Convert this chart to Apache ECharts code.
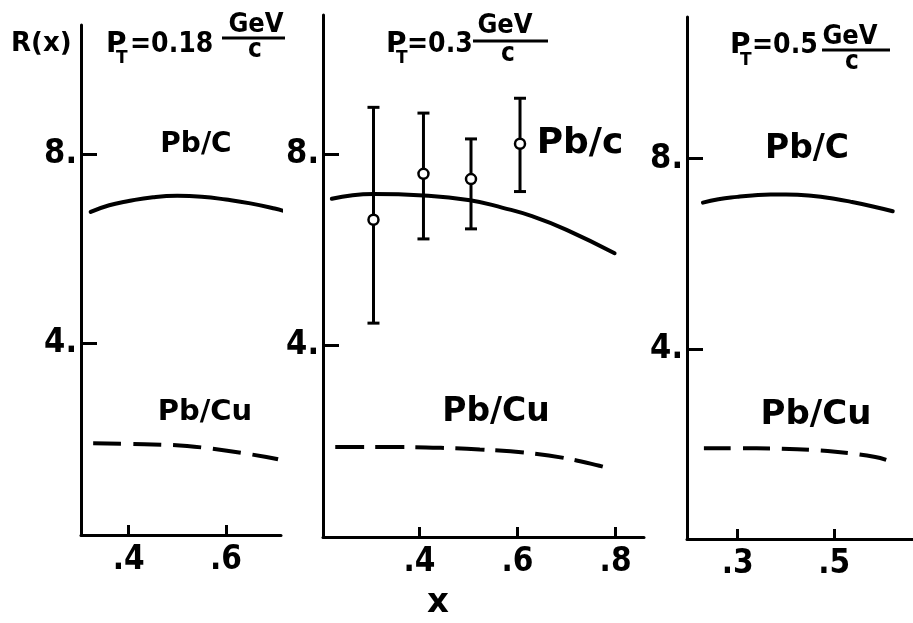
<!DOCTYPE html>
<html><head><meta charset="utf-8">
<script src="https://cdn.jsdelivr.net/npm/echarts@6/dist/echarts.min.js"></script>
<style>html,body{margin:0;padding:0;background:#fff}#c{width:913px;height:623px}</style>
</head><body><div id="c"></div>
<script>
// ---------- Panel 1 : pT = 0.18 GeV/c ----------
const p1Title = ['P', 'T', '=0.18', 'GeV', 'c'];
const p1XTicks = [0.4, 0.6];
const p1CurveX = [0.322, 0.36, 0.40, 0.45, 0.50, 0.55, 0.60, 0.65, 0.70, 0.728];
const p1CurveY = [6.78, 6.92, 7.01, 7.09, 7.12, 7.10, 7.04, 6.96, 6.85, 6.77];
const p1DashX = [0.327, 0.432, 0.520, 0.602, 0.683, 0.707];
const p1DashY = [1.89, 1.87, 1.83, 1.73, 1.60, 1.55];

// ---------- Panel 2 : pT = 0.3 GeV/c ----------
const p2Title = ['P', 'T', '=0.3', 'GeV', 'c'];
const p2XTicks = [0.4, 0.6, 0.8];
const p2CurveX = [0.221, 0.306, 0.408, 0.503, 0.57, 0.631, 0.70, 0.798];
const p2CurveY = [7.07, 7.17, 7.14, 7.04, 6.88, 6.70, 6.42, 5.93];
const p2DashX = [0.228, 0.36, 0.458, 0.523, 0.619, 0.696, 0.767, 0.788];
const p2DashY = [1.88, 1.88, 1.86, 1.83, 1.76, 1.65, 1.49, 1.43];
const p2PtsX = [0.306, 0.408, 0.505, 0.605];
const p2PtsY = [6.63, 7.59, 7.48, 8.22];
const p2PtsLo = [4.47, 6.23, 6.44, 7.22];
const p2PtsHi = [8.98, 8.86, 8.32, 9.17];

// ---------- Panel 3 : pT = 0.5 GeV/c ----------
const p3Title = ['P', 'T', '=0.5', 'GeV', 'c'];
const p3XTicks = [0.3, 0.5];
const p3CurveX = [0.228, 0.26, 0.299, 0.33, 0.368, 0.40, 0.457, 0.50, 0.533, 0.58, 0.621];
const p3CurveY = [7.08, 7.15, 7.20, 7.23, 7.25, 7.25, 7.22, 7.16, 7.10, 7.00, 6.90];
const p3DashX = [0.23, 0.339, 0.423, 0.502, 0.585, 0.616];
const p3DashY = [1.93, 1.93, 1.91, 1.86, 1.75, 1.66];

const yTicks = [4, 8];
const curveLabels = ['Pb/C', 'Pb/c', 'Pb/C'];
const dashLabel = 'Pb/Cu';
const yName = 'R(x)';
const xName = 'x';

const NUM = '"Liberation Sans Narrow", "DejaVu Sans Condensed", sans-serif';
const TXT = '"DejaVu Sans", sans-serif';
const COND = '"DejaVu Sans Condensed", "DejaVu Sans", sans-serif';

const zip = (a, b) => a.map((v, i) => [v, b[i]]);

const grids = [
  {left: 81, top: 25, width: 200, height: 510},
  {left: 323, top: 15, width: 321, height: 522},
  {left: 687, top: 17, width: 226, height: 522}
];
const xRanges = [[0.302, 0.713], [0.203, 0.858], [0.195, 0.663]];
const yRanges = [[-0.05, 10.73], [0, 10.91], [0.03, 10.97]];
const xTicksAll = [p1XTicks, p2XTicks, p3XTicks];

function fmtX(v) { return String(Math.round(v * 10) / 10).replace(/^0\./, '.'); }

const xAxes = grids.map((g, i) => ({
  gridIndex: i, type: 'value', min: xRanges[i][0], max: xRanges[i][1],
  axisLine: {show: true, onZero: false, lineStyle: {color: '#000', width: 3}},
  axisTick: {show: true, inside: true, length: 10, customValues: xTicksAll[i], lineStyle: {color: '#000', width: 3}},
  axisLabel: {show: true, customValues: xTicksAll[i], formatter: fmtX, color: '#000',
    fontFamily: NUM, fontWeight: 'bold', fontSize: 33, margin: 9},
  splitLine: {show: false}
}));
const yAxes = grids.map((g, i) => ({
  gridIndex: i, type: 'value', min: yRanges[i][0], max: yRanges[i][1],
  axisLine: {show: true, onZero: false, lineStyle: {color: '#000', width: 3}},
  axisTick: {show: true, inside: true, length: 16, customValues: yTicks, lineStyle: {color: '#000', width: 3}},
  axisLabel: {show: true, customValues: yTicks, formatter: v => v + '.', color: '#000',
    fontFamily: NUM, fontWeight: 'bold', fontSize: 34, margin: 4},
  splitLine: {show: false}
}));

const solid = {type: 'line', smooth: 0.5, showSymbol: false, clip: false, animation: false,
  lineStyle: {color: '#000', width: 4, cap: 'round'}};
const dashed = {type: 'line', smooth: 0.4, showSymbol: false, clip: false, animation: false,
  lineStyle: {color: '#000', width: 4, type: [28, 12]}};

const series = [
  Object.assign({}, solid, {xAxisIndex: 0, yAxisIndex: 0, data: zip(p1CurveX, p1CurveY)}),
  Object.assign({}, dashed, {xAxisIndex: 0, yAxisIndex: 0, data: zip(p1DashX, p1DashY)}),
  Object.assign({}, solid, {xAxisIndex: 1, yAxisIndex: 1, data: zip(p2CurveX, p2CurveY)}),
  Object.assign({}, dashed, {xAxisIndex: 1, yAxisIndex: 1, data: zip(p2DashX, p2DashY), lineStyle: {color: '#000', width: 4, type: [29, 11]}}),
  {
    type: 'custom', xAxisIndex: 1, yAxisIndex: 1, animation: false, z: 3,
    data: p2PtsX.map((x, i) => [x, p2PtsLo[i], p2PtsHi[i]]),
    encode: {x: 0, y: [1, 2]},
    renderItem: function (params, api) {
      const x = api.value(0);
      const lo = api.coord([x, api.value(1)]);
      const hi = api.coord([x, api.value(2)]);
      const w = 6;
      const st = {stroke: '#000', lineWidth: 3};
      return {type: 'group', children: [
        {type: 'line', shape: {x1: lo[0], y1: lo[1], x2: hi[0], y2: hi[1]}, style: st},
        {type: 'line', shape: {x1: lo[0] - w, y1: lo[1], x2: lo[0] + w, y2: lo[1]}, style: st},
        {type: 'line', shape: {x1: hi[0] - w, y1: hi[1], x2: hi[0] + w, y2: hi[1]}, style: st}
      ]};
    }
  },
  {type: 'scatter', xAxisIndex: 1, yAxisIndex: 1, animation: false, z: 5, symbol: 'circle', symbolSize: 10,
    itemStyle: {color: '#fff', borderColor: '#000', borderWidth: 2.5, opacity: 1},
    data: zip(p2PtsX, p2PtsY)},
  Object.assign({}, solid, {xAxisIndex: 2, yAxisIndex: 2, data: zip(p3CurveX, p3CurveY)}),
  Object.assign({}, dashed, {xAxisIndex: 2, yAxisIndex: 2, data: zip(p3DashX, p3DashY), lineStyle: {color: '#000', width: 4, type: [27, 12]}})
];

function txt(text, x, y, size, font, align) {
  return {type: 'text', x: x, y: y, silent: true,
    style: {text: text, fill: '#000', font: 'bold ' + size + 'px ' + font, textAlign: align || 'left', textVerticalAlign: 'middle'}};
}
function hline(x1, x2, y) {
  return {type: 'line', silent: true, shape: {x1: x1, y1: y, x2: x2, y2: y}, style: {stroke: '#000', lineWidth: 3}};
}
function title(t, o) {
  return [
    txt(t[0], o.px, o.py, 28, TXT),
    txt(t[1], o.tx, o.ty, 17, TXT),
    txt(t[2], o.ex, o.py, 28, COND),
    txt(t[3], o.gx, o.gy, 27, COND, 'center'),
    hline(o.l1, o.l2, o.ly),
    txt(t[4], o.cx, o.cy, 26, COND, 'center')
  ];
}

const graphics = [].concat(
  [txt(yName, 11, 44, 26, TXT)],
  title(p1Title, {px: 106, py: 45, tx: 116, ty: 59, ex: 130, gx: 256, gy: 25, l1: 222, l2: 285, ly: 38, cx: 255, cy: 50}),
  title(p2Title, {px: 386, py: 45, tx: 396, ty: 59, ex: 407, gx: 505, gy: 26, l1: 473, l2: 548, ly: 41, cx: 508, cy: 54}),
  title(p3Title, {px: 730, py: 46, tx: 740, ty: 61, ex: 752, gx: 850, gy: 37, l1: 822, l2: 890, ly: 50, cx: 852, cy: 62}),
  [
    txt(curveLabels[0], 196, 145, 28, TXT, 'center'),
    txt(dashLabel, 205, 412, 29, TXT, 'center'),
    txt(curveLabels[1], 580, 144, 36, TXT, 'center'),
    txt(dashLabel, 496, 412, 33, TXT, 'center'),
    txt(curveLabels[2], 807, 149, 33, TXT, 'center'),
    txt(dashLabel, 816, 415, 34, TXT, 'center'),
    txt(xName, 438, 603, 34, TXT, 'center')
  ]
);

const chart = echarts.init(document.getElementById('c'), null, {renderer: 'canvas'});
chart.setOption({
  animation: false,
  backgroundColor: '#fff',
  grid: grids,
  xAxis: xAxes,
  yAxis: yAxes,
  series: series,
  graphic: graphics
});
</script>
</body></html>
